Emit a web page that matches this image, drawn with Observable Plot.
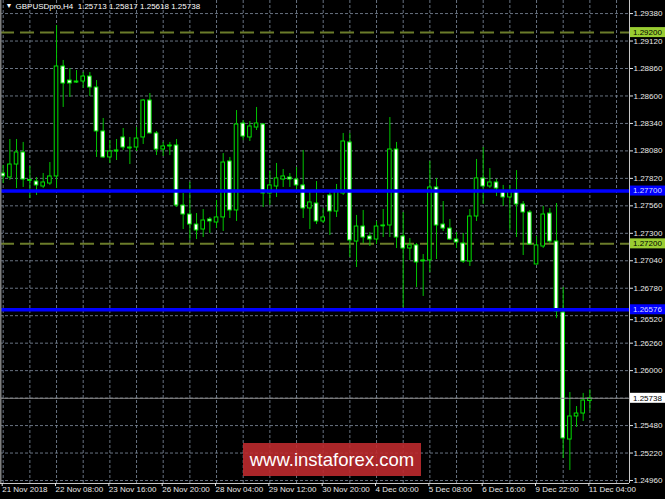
<!DOCTYPE html>
<html>
<head>
<meta charset="utf-8">
<script src="https://cdn.jsdelivr.net/npm/d3@7"></script>
<script src="https://cdn.jsdelivr.net/npm/@observablehq/plot@0.6"></script>
<style>
  html, body { margin: 0; padding: 0; background: #000; }
  #wrap { position: relative; width: 665px; height: 499px; overflow: hidden; }
  #wm { position: absolute; left: 243px; top: 443px; width: 178px; height: 33px;
        background: rgba(188, 42, 46, 0.9); color: #fff; font-family: "Liberation Sans", Arial, sans-serif;
        font-size: 18.5px; line-height: 33px; text-align: center; }
</style>
</head>
<body>
<div id="wrap"></div>
<script>
// ---- data (GBPUSD, H4 bars, index 0 = 21 Nov 2018 00:00) ----
const open  = [1.27866,1.27828,1.27951,1.28065,1.27805,1.27790,1.27743,1.27771,1.27838,1.28879,
               1.28746,1.28737,1.28737,1.28784,1.28680,1.28264,1.28018,1.28084,1.28207,1.28112,
               1.28112,1.28207,1.28557,1.28245,1.28093,1.28131,1.28131,1.27563,1.27478,1.27383,
               1.27336,1.27431,1.27402,1.27450,1.27980,1.27516,1.28339,1.28207,1.28301,1.28330,
               1.27677,1.27743,1.27809,1.27828,1.27809,1.27753,1.27535,1.27582,1.27412,1.27658,
               1.27506,1.27677,1.28160,1.27222,1.27364,1.27270,1.27241,1.27374,1.27374,1.28093,
               1.27270,1.27156,1.27185,1.27043,1.27043,1.27734,1.27383,1.27345,1.27241,1.27203,
               1.27033,1.27459,1.27819,1.27743,1.27781,1.27696,1.27639,1.27696,1.27573,1.27497,
               1.27005,1.27175,1.27487,1.27222,1.26550,1.25348,1.25566,1.25594,1.25713];
const high  = [1.27942,1.28188,1.28188,1.28160,1.27932,1.27828,1.27866,1.27970,1.29267,1.28936,
               1.28860,1.28841,1.28822,1.28822,1.28746,1.28387,1.28178,1.28188,1.28292,1.28207,
               1.28301,1.28567,1.28623,1.28264,1.28160,1.28160,1.28188,1.27677,1.27781,1.27487,
               1.27525,1.27450,1.27611,1.28055,1.28018,1.28462,1.28368,1.28358,1.28491,1.28339,
               1.27885,1.27961,1.27904,1.27866,1.27923,1.28084,1.27705,1.27790,1.27535,1.27686,
               1.27762,1.28245,1.28245,1.27469,1.27516,1.27308,1.27412,1.27525,1.28396,1.28160,
               1.27497,1.27251,1.27203,1.27099,1.27980,1.27819,1.27601,1.27431,1.27308,1.27298,
               1.27525,1.27999,1.28112,1.27913,1.27809,1.27753,1.27753,1.27894,1.27601,1.27516,
               1.27270,1.27554,1.27535,1.27582,1.26787,1.25793,1.25660,1.25784,1.25817];
const low   = [1.27771,1.27800,1.27724,1.27734,1.27629,1.27658,1.27724,1.27753,1.27724,1.28491,
               1.28586,1.28718,1.28671,1.28595,1.28018,1.28008,1.27961,1.27989,1.28084,1.27951,
               1.28074,1.28141,1.28240,1.28036,1.28027,1.28036,1.27544,1.27336,1.27232,1.27241,
               1.27260,1.27298,1.27345,1.27317,1.27440,1.27412,1.28178,1.28169,1.28273,1.27544,
               1.27563,1.27639,1.27734,1.27734,1.27705,1.27440,1.27336,1.27383,1.27393,1.27279,
               1.27450,1.27658,1.27071,1.26976,1.27203,1.27175,1.27194,1.27260,1.27260,1.27156,
               1.26598,1.27043,1.26787,1.26702,1.26929,1.27052,1.27317,1.27232,1.27156,1.27014,
               1.26986,1.27412,1.27573,1.27724,1.27648,1.27554,1.27327,1.27260,1.27090,1.27185,
               1.27000,1.27156,1.27203,1.26493,1.25168,1.25055,1.25462,1.25518,1.25618];
const close = [1.27838,1.27951,1.28065,1.27809,1.27800,1.27753,1.27781,1.27838,1.28879,1.28718,
               1.28718,1.28727,1.28784,1.28680,1.28264,1.28018,1.28074,1.28074,1.28112,1.28107,
               1.28197,1.28557,1.28245,1.28093,1.28122,1.28126,1.27563,1.27478,1.27383,1.27327,
               1.27421,1.27412,1.27450,1.27970,1.27516,1.28330,1.28216,1.28311,1.28339,1.27677,
               1.27753,1.27819,1.27838,1.27809,1.27753,1.27535,1.27592,1.27412,1.27450,1.27506,
               1.27705,1.28169,1.27232,1.27364,1.27260,1.27241,1.27364,1.27370,1.28093,1.27260,
               1.27156,1.27185,1.27024,1.27038,1.27734,1.27374,1.27345,1.27241,1.27213,1.27033,
               1.27459,1.27819,1.27743,1.27781,1.27724,1.27639,1.27696,1.27573,1.27497,1.27194,
               1.27185,1.27478,1.27222,1.26560,1.25358,1.25566,1.25594,1.25717,1.25738];

const xTickIdx    = [0, 8, 16, 24, 32, 40, 48, 56, 64, 72, 80, 88];
const xTickLabels = ["21 Nov 2018", "22 Nov 08:00", "23 Nov 16:00", "26 Nov 20:00", "28 Nov 04:00",
                     "29 Nov 12:00", "30 Nov 20:00", "4 Dec 00:00", "5 Dec 08:00", "6 Dec 16:00",
                     "9 Dec 22:00", "11 Dec 04:00"];
const yTicks = [1.2938, 1.2912, 1.2886, 1.2860, 1.2834, 1.2808, 1.2782, 1.2756, 1.2730,
                1.2704, 1.2678, 1.2652, 1.2626, 1.2600, 1.2574, 1.2548, 1.2522, 1.2496];
// tick labels: 1.25740 lies under the current-price box; 1.26520 sits just below the 1.26576 box
const yTickLabels = yTicks.filter(v => v !== 1.2574 && v !== 1.2652);
const yTickShifted = [1.2652];
const gridIdx = d3.range(0, 93, 4);
const oliveLevels = [1.2920, 1.2720];
const blueLevels  = [1.2770, 1.26576];
const lastPrice   = [1.25738];
const titleText   = "GBPUSDpro,H4  1.25713 1.25817 1.25618 1.25738";
const xDomain = [-0.405, 93.945];
const yDomain = [1.249316, 1.295037];

const bars = open.map((o, i) => ({i, o, h: high[i], l: low[i], c: close[i]}));
const dojis = bars.filter(d => Math.abs(d.o - d.c) < 0.00008);

const grid = {stroke: "#7a8698", strokeOpacity: 0.85, strokeDasharray: "3,2", strokeWidth: 1};

const chart = Plot.plot({
  width: 665, height: 499,
  marginLeft: 0, marginRight: 36, marginTop: 0, marginBottom: 16,
  style: {background: "#000", color: "#e8e8e8", fontFamily: "'Liberation Sans', Arial, sans-serif", fontSize: "8px"},
  x: {type: "linear", domain: xDomain},
  y: {type: "linear", domain: yDomain},
  marks: [
    Plot.ruleY(yTicks, grid),
    Plot.ruleX(gridIdx, grid),
    Plot.ruleY(oliveLevels, {stroke: "#6b7c2a", strokeWidth: 2, strokeDasharray: "14,6"}),
    Plot.ruleX(bars, {x: "i", y1: "l", y2: "h", stroke: "#00c400", strokeWidth: 1}),
    Plot.rect(bars, {x1: d => d.i - 0.27, x2: d => d.i + 0.27, y1: "o", y2: "c",
                     fill: d => d.c < d.o ? "#ffffff" : "#000000", stroke: "#00e000", strokeWidth: 1}),
    Plot.ruleY(dojis, {y: "c", x1: d => d.i - 0.3, x2: d => d.i + 0.3, stroke: "#00e000", strokeWidth: 1}),
    Plot.ruleY(blueLevels, {stroke: "#0000ff", strokeWidth: 3.5}),
    Plot.ruleY(lastPrice, {stroke: "#8a8a8a", strokeWidth: 1}),
    Plot.ruleX([xDomain[1]], {stroke: "#c8c8c8", strokeWidth: 1}),
    Plot.ruleX([xDomain[0]], {stroke: "#808080", strokeWidth: 2}),
    Plot.ruleY([yDomain[0]], {stroke: "#c8c8c8", strokeWidth: 1}),
    Plot.axisY(yTickLabels, {anchor: "right", tickSize: 3, tickPadding: 1, tickFormat: d3.format(".5f"), label: null}),
    Plot.axisY(yTickShifted, {anchor: "right", tickSize: 3, tickPadding: 1, tickFormat: d3.format(".5f"), label: null, dy: 4}),
    Plot.axisX(xTickIdx, {anchor: "bottom", tickSize: 3, tickPadding: 0, label: null, textAnchor: "start", dx: -1,
                          tickFormat: v => xTickLabels[xTickIdx.indexOf(v)]}),
    Plot.text(["▼"], {frameAnchor: "top-left", dx: 5, dy: 3, fill: "#fff", fontSize: 7}),
    Plot.text([titleText], {frameAnchor: "top-left", dx: 15, dy: 3, fill: "#fff", fontSize: 8})
  ]
});

// price labels on the right axis, placed through the plot's own scales
const ys = chart.scale("y"), xs = chart.scale("x");
const xr = xs.apply(xDomain[1]);
const boxes = [
  ...oliveLevels.map(v => ({v, bg: "#9acd32", fg: "#000"})),
  ...blueLevels.map(v => ({v, bg: "#0000ff", fg: "#d8dcff"})),
  ...lastPrice.map(v => ({v, bg: "#ffffff", fg: "#000"}))
];
const g = d3.select(chart).append("g").attr("text-anchor", "start");
for (const b of boxes) {
  const yy = ys.apply(b.v);
  g.append("rect").attr("x", xr + 1).attr("y", yy - 5).attr("width", 35).attr("height", 10).attr("fill", b.bg);
  g.append("text").attr("x", xr + 4).attr("y", yy).attr("dy", "0.35em").attr("fill", b.fg)
   .attr("text-anchor", "start").attr("font-size", 8).text(d3.format(".5f")(b.v));
}

const wrap = document.getElementById("wrap");
wrap.appendChild(chart);
const wm = document.createElement("div");
wm.id = "wm";
wm.textContent = "www.instaforex.com";
wrap.appendChild(wm);
</script>
</body>
</html>
